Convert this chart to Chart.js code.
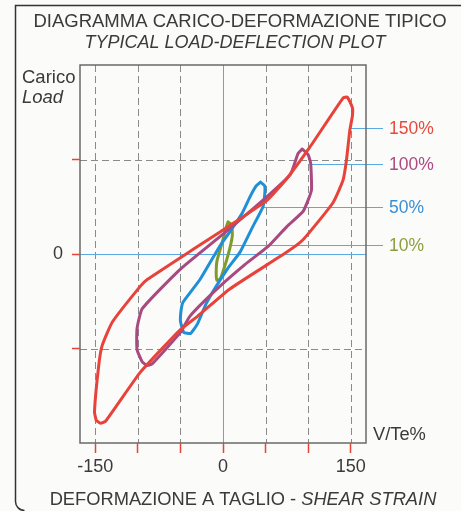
<!DOCTYPE html>
<html>
<head>
<meta charset="utf-8">
<script src="https://cdn.jsdelivr.net/npm/chart.js@4/dist/chart.umd.min.js"></script>
<style>
  html, body { margin: 0; padding: 0; background: #fbfbfa; }
  canvas { display: block; }
</style>
</head>
<body>
<canvas id="chart" width="461" height="511"></canvas>
<script>
// shear strain ticks (x) and load ticks (y)
const strainTicks = [-150, -100, -50, 0, 50, 100, 150];
const strainLabels = ["-150", "", "", "0", "", "", "150"];
const loadTicks = [-100, 0, 100];
const loadLabels = ["", "0", ""];
const gridX = [-150, -100, -50, 50, 100, 150];
const gridY = [-100, 100];

// hysteresis loops
const loop150X = [-149, -151, -146, -142, -130, -97, -89, -35, -4, 52, 76, 102, 141, 146, 152, 152, 149, 145, 141, 129, 94, 75, 8, -30, -50, -97, -138, -144, -149];
const loop150Y = [-176, -167, -118, -97, -72, -34, -27, 5, 23, 57, 81, 113, 165, 166, 155, 146, 131, 99, 78, 54, 15, 2, -37, -66, -80, -125, -177, -179, -176];
const loop100X = [93, 100, 103, 104, 100, 94, 75, 53, 26, -7, -39, -50, -83, -89, -95, -101, -101, -95, -50, 0, 47, 79, 88, 93];
const loop100Y = [111, 105, 96, 68, 57, 45, 29, 8, -11, -37, -66, -83, -116, -118, -114, -101, -79, -58, -16, 21, 57, 84, 106, 111];
const loop50X = [44, 49, 49, 47, 35, 20, 5, -19, -30, -38, -46, -50, -49, -47, -27, -4, 10, 23, 32, 39, 44];
const loop50Y = [76, 72, 63, 50, 29, 2, -16, -51, -74, -84, -83, -71, -58, -51, -27, 8, 26, 44, 61, 72, 76];
const loop10X = [6, 10, 11, 8, 2, -3, -7, -8, -7, -1, 4, 6];
const loop10Y = [34, 31, 20, 6, -13, -26, -28, -20, -7, 12, 29, 34];

const loopNames = ["150%", "100%", "50%", "10%"];
const loopColors = ["#e8433a", "#a8497f", "#1f8fd6", "#7f9b2c"];
const nameColors = ["#e8493f", "#ad4a82", "#3a8fd2", "#8c9e3e"];
const leaderY = [133, 95, 50, 9];
const leaderStartX = [150, 104, 48, 9];

const FONT = "'Liberation Sans', Arial, Helvetica, sans-serif";
const TEXT = "#3a3a3a";

const toPoints = (xs, ys) => xs.map((x, i) => ({ x: x, y: ys[i] }));
const loops = [
  toPoints(loop150X, loop150Y),
  toPoints(loop100X, loop100Y),
  toPoints(loop50X, loop50Y),
  toPoints(loop10X, loop10Y),
];

const decor = {
  id: "decor",
  beforeDraw(chart) {
    const ctx = chart.ctx;
    const area = chart.chartArea;
    const xs = chart.scales.x;
    const ys = chart.scales.y;
    ctx.save();
    ctx.fillStyle = "#fbfbfa";
    ctx.fillRect(0, 0, chart.width, chart.height);

    // outer frame (top and left edges visible)
    ctx.strokeStyle = "#333";
    ctx.lineWidth = 1.5;
    ctx.beginPath();
    ctx.moveTo(chart.width, 5.5);
    ctx.lineTo(15.5, 5.5);
    ctx.lineTo(15.5, 500);
    ctx.arcTo(15.5, 510.5, 26, 510.5, 9);
    ctx.stroke();

    // dashed grid
    ctx.strokeStyle = "#8a8a8a";
    ctx.lineWidth = 1;
    ctx.setLineDash([7, 4]);
    gridX.forEach((v) => {
      const px = Math.round(xs.getPixelForValue(v)) + 0.5;
      ctx.beginPath();
      ctx.moveTo(px, area.top);
      ctx.lineTo(px, area.bottom);
      ctx.stroke();
    });
    gridY.forEach((v) => {
      const py = Math.round(ys.getPixelForValue(v)) + 0.5;
      ctx.beginPath();
      ctx.moveTo(area.left, py);
      ctx.lineTo(area.right, py);
      ctx.stroke();
    });
    ctx.setLineDash([]);

    // blue axes through zero
    ctx.strokeStyle = "#5aaae2";
    const x0 = Math.round(xs.getPixelForValue(0)) + 0.5;
    const y0 = Math.round(ys.getPixelForValue(0)) + 0.5;
    ctx.beginPath();
    ctx.moveTo(x0, area.top);
    ctx.lineTo(x0, area.bottom);
    ctx.moveTo(area.left, y0);
    ctx.lineTo(area.right, y0);
    ctx.stroke();

    // leader lines to the loop names
    leaderY.forEach((v, i) => {
      const py = Math.round(ys.getPixelForValue(v)) + 0.5;
      ctx.beginPath();
      ctx.moveTo(xs.getPixelForValue(leaderStartX[i]), py);
      ctx.lineTo(area.right + 17, py);
      ctx.stroke();
    });

    // plot box
    ctx.strokeStyle = "#6a6a6a";
    ctx.lineWidth = 1.5;
    ctx.strokeRect(area.left, area.top, area.right - area.left, area.bottom - area.top);
    ctx.restore();
  },
  afterDraw(chart) {
    const ctx = chart.ctx;
    const area = chart.chartArea;
    const ys = chart.scales.y;
    ctx.save();
    ctx.fillStyle = TEXT;
    ctx.textBaseline = "alphabetic";

    ctx.textAlign = "center";
    ctx.font = "18.5px " + FONT;
    ctx.fillText("DIAGRAMMA CARICO-DEFORMAZIONE TIPICO", 240, 27);
    ctx.font = "italic 18px " + FONT;
    ctx.fillText("TYPICAL LOAD-DEFLECTION PLOT", 235, 48);

    ctx.textAlign = "left";
    ctx.font = "18.5px " + FONT;
    ctx.fillText("Carico", 22, 83);
    ctx.font = "italic 18.5px " + FONT;
    ctx.fillText("Load", 22, 103);
    ctx.font = "18.3px " + FONT;
    ctx.fillText("V/Te%", 373, 440);

    // bottom axis title, mixed upright / italic
    const partA = "DEFORMAZIONE A TAGLIO - ";
    const partB = "SHEAR STRAIN";
    ctx.font = "18.3px " + FONT;
    const wA = ctx.measureText(partA).width;
    ctx.font = "italic 18.3px " + FONT;
    const wB = ctx.measureText(partB).width;
    const startX = 243 - (wA + wB) / 2;
    ctx.font = "18.3px " + FONT;
    ctx.fillText(partA, startX, 505);
    ctx.font = "italic 18.3px " + FONT;
    ctx.fillText(partB, startX + wA, 505);

    // loop names
    ctx.font = "17.5px " + FONT;
    ctx.textBaseline = "middle";
    loopNames.forEach((name, i) => {
      ctx.fillStyle = nameColors[i];
      ctx.fillText(name, area.right + 23, ys.getPixelForValue(leaderY[i]) + 1);
    });
    ctx.restore();
  },
};

new Chart(document.getElementById("chart"), {
  type: "scatter",
  data: {
    datasets: loops.map((pts, i) => ({
      label: loopNames[i],
      data: pts,
      showLine: true,
      borderColor: loopColors[i],
      borderWidth: 3,
      borderJoinStyle: "round",
      borderCapStyle: "round",
      tension: 0.15,
      pointRadius: 0,
      fill: false,
    })),
  },
  options: {
    responsive: false,
    animation: false,
    devicePixelRatio: 1,
    layout: { padding: { top: 65, right: 95, left: 0, bottom: 0 } },
    plugins: { legend: { display: false }, tooltip: { enabled: false } },
    scales: {
      x: {
        type: "linear",
        min: -168,
        max: 168,
        afterBuildTicks: (s) => { s.ticks = strainTicks.map((v) => ({ value: v })); },
        afterFit: (s) => { s.height = 68; },
        grid: { drawOnChartArea: false, tickLength: 10, tickColor: "#e8433a", tickWidth: 1.5 },
        border: { display: false },
        ticks: {
          callback: (v, i) => strainLabels[i],
          padding: 3,
          color: TEXT,
          font: { family: FONT, size: 18 },
          maxRotation: 0,
          autoSkip: false,
        },
      },
      y: {
        type: "linear",
        min: -200,
        max: 200,
        afterBuildTicks: (s) => { s.ticks = loadTicks.map((v) => ({ value: v })); },
        afterFit: (s) => { s.width = 80; },
        grid: { drawOnChartArea: false, tickLength: 8, tickColor: "#e8433a", tickWidth: 1.5 },
        border: { display: false },
        ticks: {
          callback: (v, i) => loadLabels[i],
          padding: 9,
          color: TEXT,
          font: { family: FONT, size: 18 },
          autoSkip: false,
        },
      },
    },
  },
  plugins: [decor],
});
</script>
</body>
</html>
